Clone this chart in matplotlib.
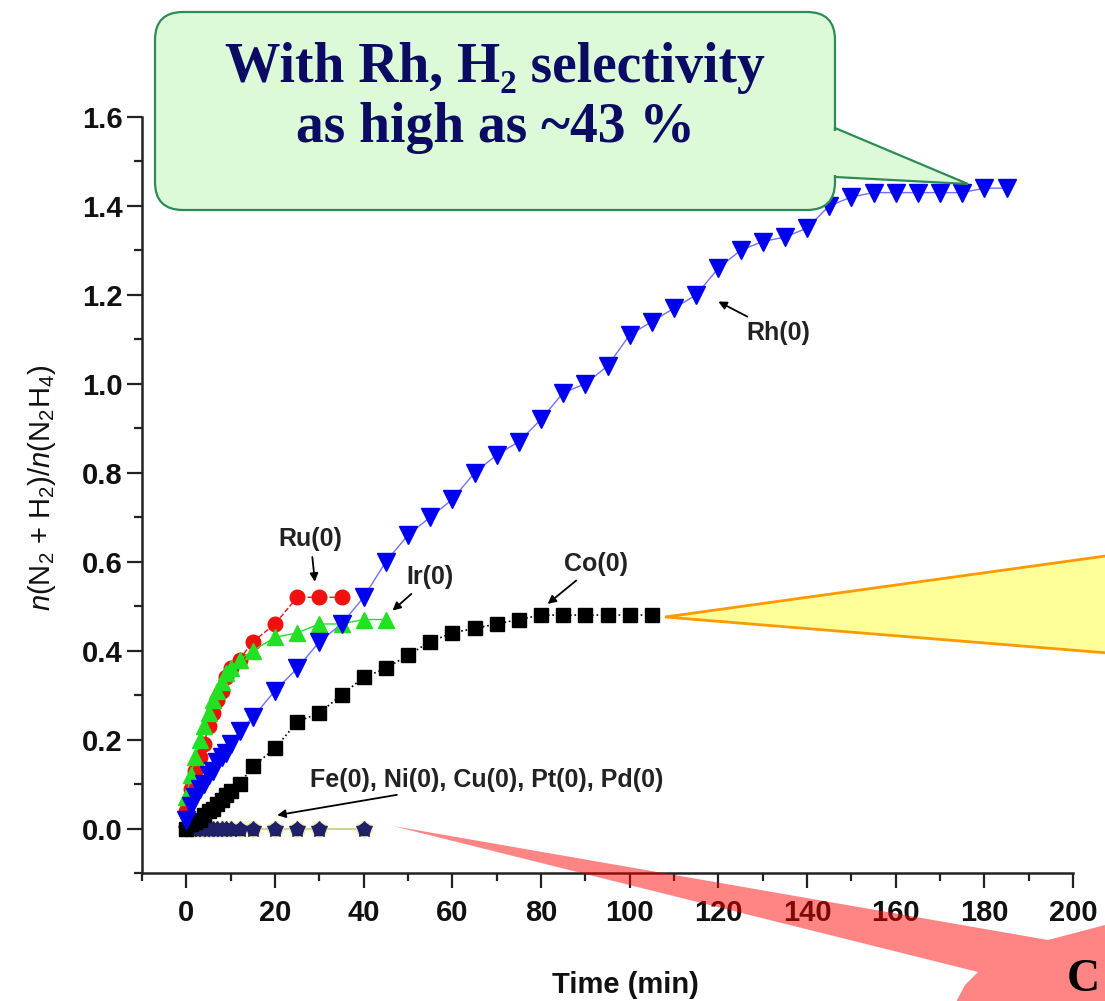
import numpy as np
import matplotlib.pyplot as plt
from matplotlib.patches import Polygon, FancyBboxPatch
from matplotlib.ticker import MultipleLocator, FormatStrFormatter

plt.rcParams['font.family'] = ['Liberation Sans', 'DejaVu Sans']
plt.rcParams['mathtext.fontset'] = 'custom'
plt.rcParams['mathtext.rm'] = 'Liberation Sans'
plt.rcParams['mathtext.it'] = 'Liberation Sans:italic'
plt.rcParams['mathtext.bf'] = 'Liberation Sans:bold'

# tiempos (min)
t_temprano = [0, 1, 2, 3, 4, 5, 6, 7, 8, 9, 10, 12, 15]
t_rh = t_temprano + list(range(20, 190, 5))
t_ru = t_temprano + [20, 25, 30, 35]
t_ir = t_temprano + [20, 25, 30, 35, 40, 45]
t_co = t_temprano + list(range(20, 110, 5))
t_otros = [0, 1, 2, 3, 4, 5, 6, 7, 8, 9, 10, 12, 15, 20, 25, 30, 40]

# n(N2+H2)/n(N2H4)
y_rh = [0.02, 0.05, 0.07, 0.09, 0.10, 0.12, 0.13, 0.15, 0.16, 0.17, 0.19, 0.22, 0.25,
        0.31, 0.36, 0.42, 0.46, 0.52, 0.60, 0.66, 0.70, 0.74, 0.80, 0.84, 0.87, 0.92,
        0.98, 1.00, 1.04, 1.11, 1.14, 1.17, 1.20, 1.26, 1.30, 1.32, 1.33, 1.35, 1.40,
        1.42, 1.43, 1.43, 1.43, 1.43, 1.43, 1.44, 1.44]
y_ru = [0.04, 0.09, 0.13, 0.16, 0.19, 0.23, 0.26, 0.29, 0.31, 0.34, 0.36, 0.38, 0.42,
        0.46, 0.52, 0.52, 0.52]
y_ir = [0.07, 0.12, 0.16, 0.20, 0.23, 0.26, 0.29, 0.31, 0.33, 0.35, 0.36, 0.38, 0.40,
        0.43, 0.44, 0.46, 0.46, 0.47, 0.47]
y_co = [0.0, 0.01, 0.015, 0.02, 0.03, 0.04, 0.045, 0.055, 0.065, 0.075, 0.085, 0.10, 0.14,
        0.18, 0.24, 0.26, 0.30, 0.34, 0.36, 0.39, 0.42, 0.44, 0.45, 0.46, 0.47, 0.48,
        0.48, 0.48, 0.48, 0.48, 0.48]
y_otros = [0.0] * len(t_otros)

fig = plt.figure(figsize=(11.05, 10.01), dpi=100)
ax = fig.add_axes([142 / 1105, 128 / 1001, 931 / 1105, 756 / 1001])

# Fe, Ni, Cu, Pt, Pd
ax.plot(t_otros, y_otros, '-', color='#c8d890', lw=1.5, zorder=2)
ax.plot(t_otros, y_otros, 'h', color='#f3eeb0', ms=12, zorder=2)
ax.plot(t_otros, y_otros, 'p', color='#1c1c6e', ms=10, zorder=3)
ax.plot(t_otros, y_otros, '*', color='#20206a', ms=12, zorder=3)

# curvas
ax.plot(t_co, y_co, 's', color='black', ls=':', lw=1.2, ms=9.5, zorder=4)
ax.plot(t_ru, y_ru, 'o', color='#f01010', ls='--', lw=1, ms=10.5, zorder=5)
ax.plot(t_ir, y_ir, '^', color='#22e022', ls='-', lw=1, ms=12, zorder=6)
ax.plot(t_rh, y_rh, 'v', color='#7070ff', ls='-', lw=1, mfc='#0000f0', mec='#0000f0',
        ms=13, zorder=7)

ax.set_xlim(-10, 200)
ax.set_ylim(-0.1, 1.6)
for s in ['top', 'right']:
    ax.spines[s].set_visible(False)
for s in ['left', 'bottom']:
    ax.spines[s].set_linewidth(1.8)
    ax.spines[s].set_color('#222222')

ax.xaxis.set_major_locator(MultipleLocator(20))
ax.xaxis.set_minor_locator(MultipleLocator(10))
ax.yaxis.set_major_locator(MultipleLocator(0.2))
ax.yaxis.set_minor_locator(MultipleLocator(0.1))
ax.yaxis.set_major_formatter(FormatStrFormatter('%.1f'))
ax.tick_params(which='major', length=11, width=1.6, color='#222222', labelsize=21)
ax.tick_params(which='minor', length=6, width=1.6, color='#222222')
ax.tick_params(axis='x', pad=8)
ax.tick_params(axis='y', pad=3)
for lab in ax.get_xticklabels() + ax.get_yticklabels():
    lab.set_fontweight('bold')
    lab.set_color('#111111')

ax.set_xlabel('Time (min)', fontsize=21, fontweight='bold', va='center', color='#111111')
ax.xaxis.set_label_coords(0.519, -0.148)
ax.set_ylabel(r'$n$(N$_2$ + H$_2$)/$n$(N$_2$H$_4$)', fontsize=21, va='center', color='#111111')
ax.yaxis.set_label_coords(-0.107, 0.509)

# etiquetas con flecha
flecha = dict(arrowstyle='-|>', color='black', lw=1.3, mutation_scale=12, shrinkA=2, shrinkB=0)
kw = dict(fontsize=18, fontweight='bold', ha='center', va='center', color='#222222')
ax.annotate('Ru(0)', xy=(29, 0.555), xytext=(28, 0.65), arrowprops=flecha, **kw)
ax.annotate('Ir(0)', xy=(46.5, 0.49), xytext=(55, 0.565), arrowprops=flecha, **kw)
ax.annotate('Co(0)', xy=(81.5, 0.505), xytext=(92.5, 0.595), arrowprops=flecha, **kw)
ax.annotate('Rh(0)', xy=(120, 1.185), xytext=(133.5, 1.115), arrowprops=flecha, **kw)
ax.annotate('Fe(0), Ni(0), Cu(0), Pt(0), Pd(0)', xy=(20.5, 0.03), xytext=(67.7, 0.11),
            arrowprops=flecha, **kw)

# globos de texto
ov = fig.add_axes([0, 0, 1, 1], zorder=10)
ov.set_xlim(0, 1105)
ov.set_ylim(1001, 0)
ov.axis('off')

verde, borde_verde = '#dcf9d8', '#2e8b57'
ov.add_patch(FancyBboxPatch((155, 12), 680, 198, boxstyle='round,pad=0,rounding_size=28',
                            fc=verde, ec=borde_verde, lw=1.6))
ov.add_patch(Polygon([(835, 128), (968, 184), (835, 177)], closed=True,
                     fc=verde, ec=borde_verde, lw=1.6))
ov.add_patch(Polygon([(831, 131), (839, 131), (839, 175), (831, 175)], fc=verde, ec='none'))
serif = ['Liberation Serif', 'DejaVu Serif']
ov.text(495, 68, 'With Rh, H\u2082 selectivity', ha='center', va='center', fontsize=40,
        fontweight='bold', family=serif, color='#0b0b63')
ov.text(495, 128, 'as high as ~43 %', ha='center', va='center', fontsize=40,
        fontweight='bold', family=serif, color='#0b0b63')

ov.add_patch(Polygon([(665, 617), (1120, 554), (1120, 654)], closed=True,
                     fc='#ffff99', ec='#ff9900', lw=2))

ov.add_patch(Polygon([(393, 826), (1048, 940), (1105, 925), (1120, 922), (1120, 1010),
                      (955, 1010), (957, 1000), (965, 985), (978, 972)], closed=True,
                     fc='red', alpha=0.48, ec='none'))
ov.text(1100, 980, 'C', ha='right', va='center', fontsize=33, fontweight='bold',
        family=serif, color='black')

fig.savefig('out.png', dpi=100)
